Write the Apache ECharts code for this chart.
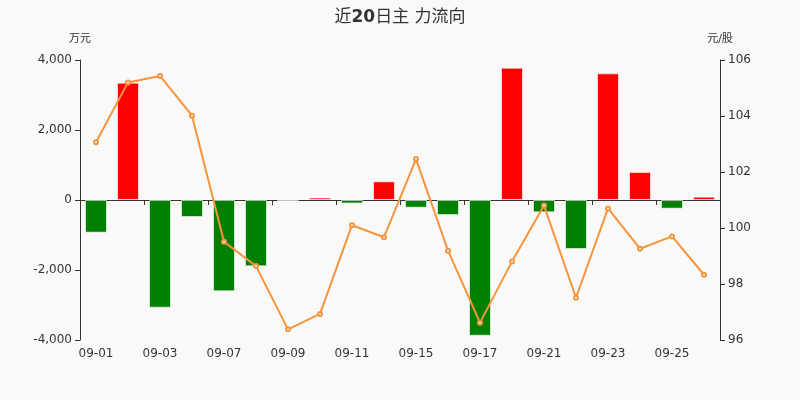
<!DOCTYPE html>
<html>
<head>
<meta charset="utf-8">
<script src="https://cdn.jsdelivr.net/npm/echarts@6/dist/echarts.min.js"></script>
<style>
html,body{margin:0;padding:0;background:#f9f9f9;}
#main{width:800px;height:400px;}
</style>
</head>
<body>
<div id="main"></div>
<script>
var categories = ['09-01','09-02','09-03','09-04','09-07','09-08','09-09','09-10','09-11','09-14','09-15','09-16','09-17','09-18','09-21','09-22','09-23','09-24','09-25','09-28'];
var flowValues = [-934, 3352, -3076, -486, -2610, -1895, -15, 70, -100, 533, -219, -429, -3876, 3781, -352, -1400, 3619, 800, -248, 95];
var priceValues = [103.06, 105.20, 105.43, 104.01, 99.51, 98.64, 96.38, 96.93, 100.10, 99.67, 102.46, 99.19, 96.62, 98.80, 100.80, 97.51, 100.70, 99.26, 99.70, 98.33];
var leftTicks = { min: -4000, max: 4000, interval: 2000 };
var rightTicks = { min: 96, max: 106, interval: 2 };

var FONT = '"DejaVu Sans", "Noto Sans CJK SC", sans-serif';
var chart = echarts.init(document.getElementById('main'));
var barData = flowValues.map(function (v) {
  return { value: v, itemStyle: { color: v >= 0 ? '#ff0000' : '#008000' } };
});
var axisCommon = {
  axisLine: { show: true, lineStyle: { color: '#333' } },
  axisTick: { show: true, lineStyle: { color: '#333' } },
  axisLabel: { color: '#333', fontSize: 12, fontFamily: FONT },
  splitLine: { show: false },
  nameTextStyle: { color: '#333', fontSize: 11, fontFamily: FONT }
};
chart.setOption({
  backgroundColor: '#f9f9f9',
  animation: false,
  textStyle: { fontFamily: FONT },
  title: {
    text: '{n|近}{b|20}{n|日主 力流向}',
    left: 'center',
    top: 4,
    textStyle: {
      color: '#333', fontSize: 17, fontFamily: FONT,
      rich: {
        n: { color: '#333', fontSize: 17, fontWeight: 'normal', fontFamily: FONT },
        b: { color: '#333', fontSize: 17, fontWeight: 'bold', fontFamily: FONT }
      }
    }
  },
  grid: { left: 80, right: 80, top: 60, bottom: 60 },
  xAxis: {
    type: 'category',
    data: categories,
    axisLine: { lineStyle: { color: '#333' } },
    axisTick: { show: true, lineStyle: { color: '#333' } },
    axisLabel: { color: '#333', fontSize: 12, interval: 1, fontFamily: FONT }
  },
  yAxis: [
    Object.assign({}, axisCommon, {
      type: 'value', name: '万元', position: 'left',
      min: leftTicks.min, max: leftTicks.max, interval: leftTicks.interval,
      nameGap: 15
    }),
    Object.assign({}, axisCommon, {
      type: 'value', name: '元/股', position: 'right',
      min: rightTicks.min, max: rightTicks.max, interval: rightTicks.interval,
      nameGap: 15
    })
  ],
  series: [
    {
      type: 'bar',
      data: barData,
      barWidth: 22,
      itemStyle: { borderColor: 'rgba(255,255,255,0.6)', borderWidth: 1 }
    },
    {
      type: 'line',
      yAxisIndex: 1,
      data: priceValues,
      symbol: 'emptyCircle',
      symbolSize: 4,
      lineStyle: { color: '#f7953c', width: 2 },
      itemStyle: { color: '#f7953c', borderColor: '#f7953c' }
    }
  ]
});
</script>
</body>
</html>
